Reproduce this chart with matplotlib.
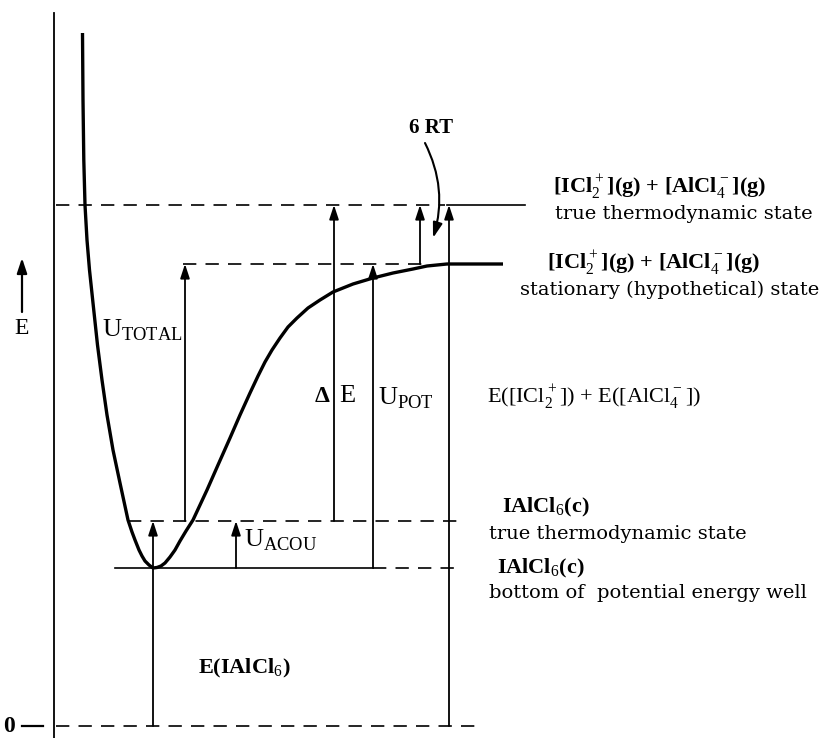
import matplotlib.pyplot as plt

plt.rcParams['font.family'] = ['Liberation Serif', 'DejaVu Serif']
plt.rcParams['mathtext.fontset'] = 'custom'
plt.rcParams['mathtext.rm'] = 'Liberation Serif'
plt.rcParams['mathtext.bf'] = 'Liberation Serif:bold'

# energy levels (arbitrary units, 0 = separated atoms)
E_ZERO = 0
E_WELL = 158
E_CRYSTAL = 205
E_STAT = 462
E_GAS = 521

# potential energy curve as (distance, height from top)
r_curve = [82.5, 83, 83.8, 85, 87, 89.5, 93, 97.5, 102, 107, 113, 120, 128,
           132, 135, 139, 142, 145, 149, 153, 157, 161, 165, 170, 175, 180,
           186, 193, 200, 207, 218, 230, 240, 250, 258, 265, 272, 280, 288,
           297, 308, 320, 333, 353, 373, 393, 413, 427, 447, 503]
y_curve = [33, 100, 160, 205, 240, 270, 303, 345, 380, 415, 450, 483, 520,
           532, 540, 550, 556, 561, 565, 568, 567.5, 566, 563, 557, 550, 541,
           531, 520, 505, 490, 465, 438, 415, 393, 376, 362, 350, 338, 327,
           318, 308, 300, 292, 284, 278, 273, 269, 266, 264, 264]
e_curve = [726 - y for y in y_curve]

# vertical arrows: x position, from level, to level
arrow_x = [153, 185, 236, 334, 373, 420, 449]
arrow_from = [E_ZERO, E_CRYSTAL, E_WELL, E_CRYSTAL, E_WELL, E_STAT, E_ZERO]
arrow_to = [E_CRYSTAL, E_STAT, E_CRYSTAL, E_GAS, E_STAT, E_GAS, E_GAS]

fig = plt.figure(figsize=(8.35, 7.38), dpi=100)
ax = fig.add_axes([0, 0, 1, 1])
ax.set_xlim(0, 835)
ax.set_ylim(-12, 726)
ax.axis('off')

dash = (0, (8, 5.5))
lw_thin = 1.2
desc_font = 'DejaVu Serif'
desc_size = 14

# energy axis
ax.plot([54, 54], [-12, 713], color='black', lw=1.3)
ax.plot([22, 43], [E_ZERO, E_ZERO], color='black', lw=1.6)
ax.text(9, E_ZERO, '0', fontsize=17, fontweight='bold', ha='center', va='center')
ax.annotate('', xy=(22, 726 - 258), xytext=(22, 726 - 312),
            arrowprops=dict(arrowstyle='-|>,head_length=0.9,head_width=0.3',
                            color='black', lw=1.6, shrinkA=0, shrinkB=0))
ax.text(22, 726 - 329, 'E', fontsize=17, ha='center', va='center')

# level lines
ax.plot([56, 482], [E_ZERO, E_ZERO], color='black', lw=lw_thin, ls=dash)
ax.plot([115, 373], [E_WELL, E_WELL], color='black', lw=lw_thin)
ax.plot([373, 463], [E_WELL, E_WELL], color='black', lw=lw_thin, ls=dash)
ax.plot([128, 460], [E_CRYSTAL, E_CRYSTAL], color='black', lw=lw_thin, ls=dash)
ax.plot([183, 422], [E_STAT, E_STAT], color='black', lw=lw_thin, ls=dash)
ax.plot([56, 445], [E_GAS, E_GAS], color='black', lw=lw_thin, ls=dash)
ax.plot([447, 525], [E_GAS, E_GAS], color='black', lw=lw_thin)

# potential energy curve
ax.plot(r_curve, e_curve, color='black', lw=2.4, solid_capstyle='butt',
        solid_joinstyle='round')

for x, e0, e1 in zip(arrow_x, arrow_from, arrow_to):
    ax.annotate('', xy=(x, e1), xytext=(x, e0),
                arrowprops=dict(arrowstyle='-|>,head_length=0.85,head_width=0.28',
                                color='black', lw=1.3, shrinkA=0, shrinkB=0))

# 6 RT pointer
ax.annotate('', xy=(433, 726 - 238), xytext=(425, 726 - 143),
            arrowprops=dict(arrowstyle='-|>,head_length=0.9,head_width=0.28',
                            color='black', lw=1.5, shrinkA=0, shrinkB=0,
                            connectionstyle='arc3,rad=-0.2'))
ax.text(431, 726 - 128, '6 RT', fontsize=15, fontweight='bold', ha='center', va='center')

# labels on arrows
ax.text(102, 726 - 330, r'U$_{\mathrm{TOTAL}}$', fontsize=19, va='center')
ax.text(330, 726 - 396, r'$\mathbf{\Delta}$', fontsize=17, ha='right', va='center')
ax.text(339, 726 - 396, 'E', fontsize=19, va='center')
ax.text(378, 726 - 398, r'U$_{\mathrm{POT}}$', fontsize=19, va='center')
ax.text(244, 726 - 540, r'U$_{\mathrm{ACOU}}$', fontsize=19, va='center')
ax.text(198, 726 - 668, r'E(IAlCl$_6$)', fontsize=16, fontweight='bold', va='center')

# level descriptions
ax.text(553, 726 - 187, r'[ICl$_2^+$](g) + [AlCl$_4^-$](g)', fontsize=16,
        fontweight='bold', va='center')
ax.text(555, 726 - 214, 'true thermodynamic state', fontsize=desc_size,
        family=desc_font, va='center')
ax.text(547, 726 - 263, r'[ICl$_2^+$](g) + [AlCl$_4^-$](g)', fontsize=16,
        fontweight='bold', va='center')
ax.text(520, 726 - 290, 'stationary (hypothetical) state', fontsize=desc_size,
        family=desc_font, va='center')
ax.text(487, 726 - 397, r'E([ICl$_2^+$]) + E([AlCl$_4^-$])', fontsize=16, va='center')
ax.text(502, 726 - 507, r'IAlCl$_6$(c)', fontsize=16, fontweight='bold', va='center')
ax.text(489, 726 - 534, 'true thermodynamic state', fontsize=desc_size,
        family=desc_font, va='center')
ax.text(497, 726 - 568, r'IAlCl$_6$(c)', fontsize=16, fontweight='bold', va='center')
ax.text(489, 726 - 593, 'bottom of  potential energy well', fontsize=desc_size,
        family=desc_font, va='center')

fig.savefig('out.png', dpi=100)
